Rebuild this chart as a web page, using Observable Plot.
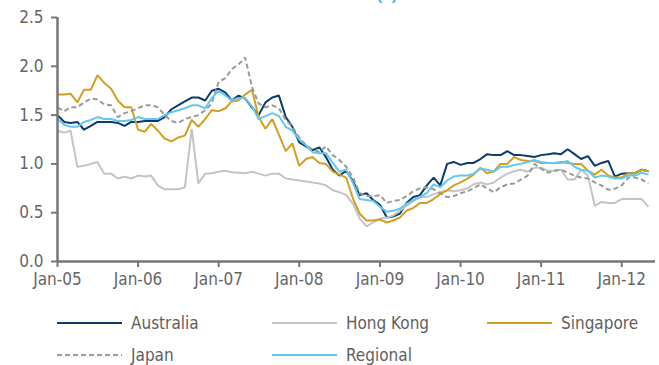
<!DOCTYPE html>
<html>
<head>
<meta charset="utf-8">
<script src="https://cdn.jsdelivr.net/npm/d3@7"></script>
<script src="https://cdn.jsdelivr.net/npm/@observablehq/plot@0.6"></script>
<style>
  html, body { margin: 0; padding: 0; background: #fff; }
  #wrap { position: relative; width: 659px; height: 365px; overflow: hidden;
          font-family: 'Liberation Sans Narrow', 'Arial Narrow', 'DejaVu Sans Condensed', sans-serif; }
  #title { position: absolute; top: -17px; left: 376px; font: 19px 'Liberation Sans', Arial, sans-serif;
           color: #22a7e0; line-height: 20px; white-space: nowrap; }
  .leg { position: absolute; height: 20px; display: flex; align-items: center; font-size: 17px; color: #5f5f5f; }
  .leg svg { margin-right: 9px; }
</style>
</head>
<body>
<div id="wrap">
  <div id="chart"></div>
  <div id="title">(x)</div>
  <div id="legend"></div>
</div>
<script>
// Monthly, Jan-05 .. May-12 (89 months)
const startMonth = new Date(Date.UTC(2005, 0, 1));
const endMonth = new Date(Date.UTC(2012, 5, 1));
const seriesNames = ["Australia", "Hong Kong", "Singapore", "Japan", "Regional"];
const yTicks = [0, 0.5, 1.0, 1.5, 2.0, 2.5];

const australia = [1.50,1.43,1.42,1.43,1.35,1.39,1.43,1.43,1.43,1.42,1.39,1.43,
  1.43,1.44,1.44,1.44,1.48,1.56,1.60,1.64,1.68,1.68,1.65,1.75,
  1.77,1.73,1.65,1.70,1.67,1.58,1.50,1.63,1.68,1.70,1.48,1.38,
  1.22,1.18,1.14,1.17,1.07,0.94,0.88,0.93,0.82,0.68,0.70,0.63,
  0.58,0.45,0.46,0.49,0.60,0.66,0.68,0.78,0.86,0.78,1.00,1.02,
  0.99,1.01,1.01,1.05,1.10,1.09,1.09,1.13,1.09,1.09,1.08,1.07,
  1.09,1.10,1.11,1.10,1.15,1.10,1.05,1.08,0.98,1.01,1.03,0.87,
  0.90,0.905,0.905,0.94,0.925];
const hongKong = [1.34,1.32,1.34,0.97,0.98,1.00,1.02,0.90,0.90,0.85,0.87,0.85,
  0.88,0.87,0.88,0.78,0.74,0.74,0.74,0.76,1.36,0.80,0.90,0.905,
  0.92,0.93,0.915,0.91,0.905,0.92,0.90,0.88,0.90,0.90,0.85,0.84,
  0.83,0.82,0.81,0.80,0.78,0.73,0.71,0.68,0.59,0.44,0.36,0.40,
  0.44,0.45,0.47,0.52,0.57,0.62,0.66,0.66,0.69,0.71,0.73,0.72,
  0.73,0.75,0.79,0.81,0.79,0.81,0.86,0.90,0.925,0.94,0.92,0.96,
  0.96,0.93,0.93,0.94,0.84,0.84,0.94,0.88,0.57,0.61,0.60,0.60,
  0.64,0.64,0.64,0.64,0.56];
const singapore = [1.71,1.71,1.72,1.63,1.76,1.76,1.91,1.83,1.77,1.65,1.58,1.58,
  1.35,1.33,1.41,1.34,1.26,1.23,1.27,1.29,1.45,1.38,1.46,1.55,
  1.54,1.57,1.64,1.65,1.71,1.76,1.48,1.36,1.46,1.30,1.13,1.21,
  0.98,1.05,1.07,1.01,1.00,0.92,0.89,0.86,0.64,0.49,0.42,0.42,
  0.43,0.40,0.42,0.45,0.52,0.55,0.60,0.60,0.64,0.69,0.73,0.78,
  0.81,0.85,0.89,0.96,0.905,0.925,1.00,1.00,1.07,1.04,1.03,1.03,
  1.01,1.01,1.01,1.02,1.01,1.00,1.00,0.93,0.89,0.94,0.88,0.86,
  0.86,0.905,0.905,0.94,0.925];
const japan = [1.58,1.54,1.58,1.58,1.63,1.67,1.66,1.61,1.60,1.48,1.52,1.54,
  1.57,1.60,1.60,1.58,1.50,1.44,1.42,1.46,1.48,1.50,1.55,1.62,
  1.84,1.88,1.97,2.02,2.09,1.79,1.62,1.58,1.60,1.57,1.45,1.38,
  1.27,1.19,1.15,1.12,1.18,1.09,1.04,0.97,0.86,0.70,0.67,0.67,
  0.68,0.60,0.62,0.63,0.67,0.72,0.75,0.76,0.74,0.70,0.66,0.67,
  0.70,0.72,0.75,0.79,0.75,0.71,0.76,0.79,0.80,0.84,0.88,1.00,
  0.95,0.91,0.93,0.94,0.91,0.88,0.86,0.85,0.81,0.78,0.735,0.745,
  0.78,0.86,0.86,0.84,0.80];
const regional = [1.46,1.40,1.38,1.38,1.43,1.45,1.48,1.46,1.46,1.44,1.44,1.45,
  1.48,1.46,1.46,1.46,1.50,1.53,1.55,1.57,1.60,1.60,1.57,1.675,
  1.75,1.70,1.65,1.675,1.675,1.59,1.46,1.49,1.52,1.49,1.38,1.34,
  1.25,1.19,1.12,1.11,1.11,1.01,0.92,0.94,0.80,0.64,0.63,0.62,
  0.56,0.51,0.52,0.54,0.59,0.63,0.66,0.70,0.79,0.76,0.83,0.87,
  0.88,0.88,0.90,0.95,0.94,0.92,0.97,0.97,0.99,1.00,1.02,1.04,
  1.02,1.01,1.01,1.01,1.03,0.97,0.94,0.93,0.86,0.88,0.87,0.85,
  0.85,0.88,0.88,0.91,0.89];

const seriesValues = [australia, hongKong, singapore, japan, regional];
const seriesColors = ["#0b3b6b", "#c4c4c4", "#d29f1f", "#9a9a9a", "#62c8f0"];
const seriesDash = [null, null, null, "5,3", null];

const months = d3.utcMonth.range(startMonth, endMonth);
const rows = [];
seriesNames.forEach((name, i) => {
  seriesValues[i].forEach((v, j) => rows.push({series: name, date: months[j], value: v}));
});

const axisColor = "#777";
const textColor = "#666";

const chart = Plot.plot({
  width: 659,
  height: 295,
  marginLeft: 57,
  marginRight: 4,
  marginTop: 17,
  marginBottom: 34,
  style: {
    fontFamily: "'Liberation Sans Narrow', 'Arial Narrow', 'DejaVu Sans Condensed', sans-serif",
    fontSize: "17px",
    color: textColor,
    background: "white",
    overflow: "visible"
  },
  x: {type: "utc", domain: [startMonth, new Date(Date.UTC(2012, 5, 2))]},
  y: {domain: [0, 2.5]},
  marks: [
    ...seriesNames.map((name, i) => Plot.lineY(rows.filter(d => d.series === name), {
      x: "date", y: "value",
      stroke: seriesColors[i], strokeWidth: 2,
      strokeDasharray: seriesDash[i] || undefined,
      strokeLinejoin: "miter", strokeLinecap: "butt"
    })),
    Plot.axisX({
      ticks: d3.utcYear.every(1), tickFormat: d3.utcFormat("%b-%y"),
      tickSize: 6, tickPadding: 5, stroke: axisColor, strokeWidth: 2, label: null, fill: textColor
    }),
    Plot.axisY({
      ticks: yTicks, tickFormat: d3.format(".1f"),
      tickSize: 6, tickPadding: 8, stroke: axisColor, strokeWidth: 2, label: null, fill: textColor
    }),
    Plot.ruleX([startMonth], {y1: 0, y2: 2.5, stroke: axisColor, strokeWidth: 2.5}),
    Plot.ruleY([0], {stroke: axisColor, strokeWidth: 2.5})
  ]
});
document.getElementById("chart").appendChild(chart);

// Legend (below the SVG)
const legendCols = [57, 272, 487];
const legendRows = [313, 345];
const legend = document.getElementById("legend");
seriesNames.forEach((name, i) => {
  const item = document.createElement("div");
  item.className = "leg";
  item.style.left = legendCols[i % 3] + "px";
  item.style.top = legendRows[Math.floor(i / 3)] + "px";
  const dash = seriesDash[i] ? `stroke-dasharray="${seriesDash[i]}"` : "";
  item.innerHTML = `<svg width="65" height="4"><line x1="0" y1="2" x2="65" y2="2" stroke="${seriesColors[i]}" stroke-width="2" ${dash}/></svg><span>${name}</span>`;
  legend.appendChild(item);
});
</script>
</body>
</html>
